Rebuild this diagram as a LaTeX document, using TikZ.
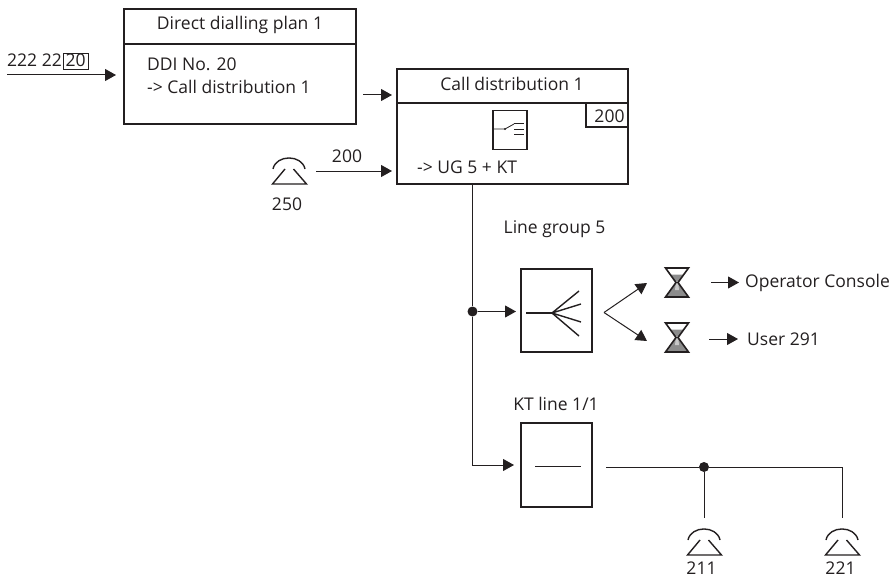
\documentclass[tikz,border=0pt]{standalone}
\usepackage{fontspec}
\setmainfont{Open Sans}
\usetikzlibrary{arrows.meta, positioning, calc}
\definecolor{ink}{RGB}{35,31,32}
\definecolor{sand}{RGB}{140,140,140}
\definecolor{sandlight}{RGB}{200,200,200}

\tikzset{
	block/.style={draw=ink,line width=1.5pt,rectangle,outer sep=0pt,inner sep=0pt},
	wire/.style={draw=ink,line width=1pt},
	flow/.style={wire,-{Triangle[length=11pt,width=12pt]}},
	lbl/.style={font=\fontsize{17.5}{20}\selectfont,text=ink,inner sep=0pt,anchor=base},
	lblw/.style={lbl,anchor=base west},
	junction/.style={circle,fill=ink,minimum size=10pt,inner sep=0pt},
	phone/.pic={
		\draw[ink,line width=1.4pt] (-16,11) .. controls (-13,-3.7) and (13,-3.7) .. (16,11);
		\draw[ink,line width=1.4pt] (-4,11) -- (-16.5,26) -- (17.5,26) -- (4.5,11);
	},
	hourglass/.pic={
		\fill[sand] (-7,7.5) -- (7,7.5) -- (1,15) -- (-1,15) -- cycle;
		\fill[sand] (-1,16) -- (1,16) -- (11,29) -- (-11,29) -- cycle;
		\fill[sandlight] (-1,14) -- (1,14) -- (2,23) -- (-2,23) -- cycle;
		\draw[ink,line width=1.6pt] (-11.5,1) -- (11.5,1) -- (1,15.5) -- (11.5,30) -- (-11.5,30) -- (-1,15.5) -- cycle;
	}
}

\begin{document}
\begin{tikzpicture}[x=1pt,y=-1pt]
	\path[use as bounding box] (0,0) rectangle (895,578);
	% direct dialling plan
	\node[block,minimum width=232pt,minimum height=115pt] (plan1) at (240,66.5) {};
	\coordinate (plan1div) at (240,44);
	\draw[block] (plan1.west |- plan1div) -- (plan1.east |- plan1div);
	\node[lbl] (plan1head) at (240,29.5) {Direct dialling plan 1};
	\node[lblw] (plan1ddi) at (147,70.5) {DDI No. 20};
	\node[lblw] (plan1to) at (147,93) {-> Call distribution 1};
	% incoming number
	\node[lblw] (number) at (7,66.5) {222 22};
	\node[draw=ink,line width=0.7pt,minimum width=24.5pt,minimum height=16pt,anchor=west] (suffix) at (63,61) {};
	\node[lbl] (suffixnum) at (suffix.center |- number.base) {20};
	\coordinate (numberin) at (7,75);
	\draw[flow,shorten >=8pt] (numberin) -- (plan1.west |- numberin);
	% call distribution
	\node[block,minimum width=231pt,minimum height=115pt] (cd1) at (512.5,126.5) {};
	\coordinate (cd1div) at (512.5,103);
	\draw[block] (cd1.west |- cd1div) -- (cd1.east |- cd1div);
	\node[lbl] (cd1head) at (512,90.5) {Call distribution 1};
	\node[block,minimum width=42pt,minimum height=24pt] (cd1box) at (607,115) {};
	\node[lbl] (cd1num) at (609.5,122) {200};
	\node[lblw] (cd1to) at (417,173) {-> UG 5 + KT};
	\node[block,minimum width=34pt,minimum height=39pt] (switch) at (510,130) {};
	\draw[ink,line width=0.8pt] (494,129) -- (505,129) -- (514,124);
	\draw[ink,line width=0.8pt] (514,123.5) -- (524,123.5) (514,129) -- (524,129) (514,134) -- (524,134);
	\fill[ink] (505,129) circle (1.2pt);
	% arrows into call distribution
	\coordinate (planout) at (363,95);
	\coordinate (phoneout) at (316,171);
	\draw[flow,shorten >=5pt] (planout) -- (cd1.west |- planout);
	\draw[flow,shorten >=5pt] (phoneout) -- (cd1.west |- phoneout);
	\node[lbl] (dial200) at (347,162) {200};
	\pic at (289,158) {phone};
	\node[lbl] (ext250) at (287,210) {250};
	% trunk
	\node[junction] (trunkdot) at (472.5,311.5) {};
	\node[lbl] (lglabel) at (554.5,233) {Line group 5};
	\node[block,minimum width=71pt,minimum height=83pt] (lgbox) at (556.5,310.5) {};
	\node[lbl] (ktlabel) at (556,410) {KT line 1/1};
	\node[block,minimum width=71pt,minimum height=84pt] (ktbox) at (556.5,465) {};
	\draw[wire] (cd1.south -| trunkdot) -- (trunkdot);
	\draw[flow,shorten >=5pt] (trunkdot) -- (trunkdot -| lgbox.west);
	\draw[flow,shorten >=7pt] (trunkdot) |- (ktbox.west);
	% fan in line group
	\draw[ink,line width=1.4pt] (526,313) -- (552,313);
	\draw[ink,line width=1.4pt] (552,313) -- (579,291) (552,313) -- (581,304)
		(552,313) -- (581,322) (552,313) -- (579,336);
	% hourglasses
	\coordinate (fork) at (604,312.5);
	\coordinate (fork1) at (647,283);
	\coordinate (fork2) at (647,341);
	\draw[flow] (fork) -- (fork1);
	\draw[flow] (fork) -- (fork2);
	\pic at (677,267) {hourglass};
	\pic at (677,322) {hourglass};
	\coordinate (op1) at (711,282.5);
	\coordinate (us1) at (709,339);
	\node[lblw] (oplabel) at (745,287) {Operator Console};
	\node[lblw] (uslabel) at (747,345) {User 291};
	\draw[flow,shorten >=6pt] (op1) -- (op1 -| oplabel.west);
	\draw[flow,shorten >=9pt] (us1) -- (us1 -| uslabel.west);
	% KT line
	\draw[ink,line width=1.4pt] (535,466.5) -- (581,466.5);
	\coordinate (ktout) at (606,467);
	\node[junction] (ktdot) at (704,467) {};
	\coordinate (end211) at (704,518);
	\coordinate (end221) at (842,518);
	\draw[wire] (ktout) -- (ktdot);
	\draw[wire] (ktdot) -- (end221 |- ktdot) -- (end221);
	\draw[wire] (ktdot) -- (end211);
	\pic at (704,529) {phone};
	\pic at (842,529) {phone};
	\node[lbl] (ext211) at (701.5,574.5) {211};
	\node[lbl] (ext221) at (840.5,574.5) {221};
\end{tikzpicture}
\end{document}
